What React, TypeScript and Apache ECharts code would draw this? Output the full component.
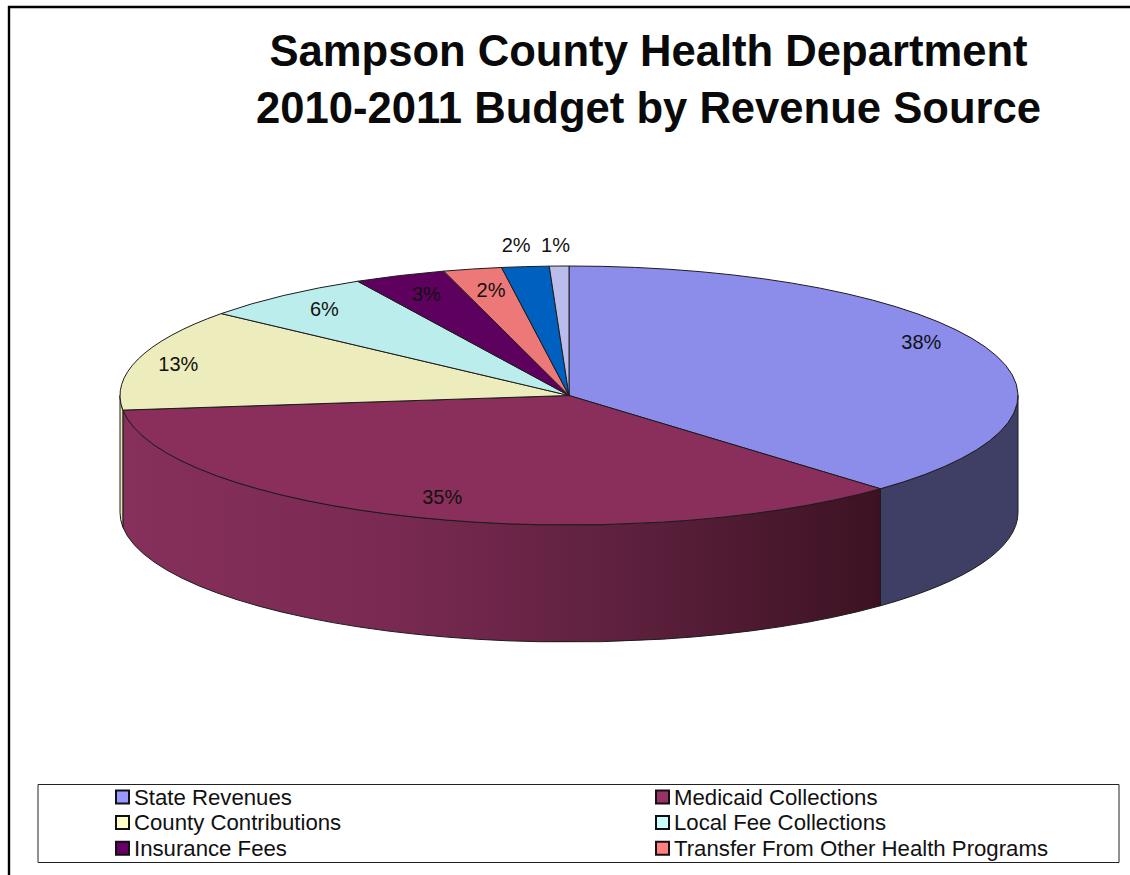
import React, { useEffect, useRef } from "react";
import * as echarts from "echarts";

const TITLE_LINES = ["Sampson County Health Department", "2010-2011 Budget by Revenue Source"];
const SOURCES = [
  "State Revenues",
  "Medicaid Collections",
  "County Contributions",
  "Local Fee Collections",
  "Insurance Fees",
  "Transfer From Other Health Programs",
  "Other Grants",
  "Miscellaneous",
];
const SHARES = [37.8, 35.4, 12.7, 6.3, 3.3, 2.1, 1.7, 0.7];
const LEGEND_LEFT = ["State Revenues", "County Contributions", "Insurance Fees"];
const LEGEND_RIGHT = ["Medicaid Collections", "Local Fee Collections", "Transfer From Other Health Programs"];

const TOP_COLORS = ["#8C8CEB", "#8A2E5C", "#ECECBC", "#BCEDED", "#5E005E", "#ED7878", "#0060BF", "#BCBCEC"];
const LEGEND_COLORS = ["#9999FF", "#993366", "#FFFFCC", "#CCFFFF", "#660066", "#FF8080", "#0066CC", "#CCCCFF"];
const WALL_COLORS = ["#3F3F66", "", "#E6E6B8", "#7FA0A0", "#3A003A", "#A05050", "#003F80", "#8080A0"];
const MEDICAID_WALL_STOPS = [
  { offset: 0, color: "#86305B" },
  { offset: 0.35, color: "#7A2A52" },
  { offset: 0.7, color: "#5A1F3B" },
  { offset: 1, color: "#3C1222" },
];

// radial placement of each percentage label, as a fraction of the ellipse radii
const LABEL_FX = [0.846, 0.834, 0.907, 0.858, 0.843, 0.808, 1.21, 1.37];
const LABEL_FY = [1.1, 0.834, 0.85, 0.865, 0.846, 0.834, 1.168, 1.162];

const CX = 569;
const CY = 395.5;
const RX = 449;
const RY = 129.5;
const DEPTH = 117;
const STROKE = "#1c1c1c";

const total = SHARES.reduce((a, b) => a + b, 0);
const startAngle = (i: number) => (SHARES.slice(0, i).reduce((a, b) => a + b, 0) / total) * 360;

const pt = (deg: number, dy = 0, fx = 1, fy = 1): [number, number] => {
  const r = (deg * Math.PI) / 180;
  return [CX + RX * fx * Math.sin(r), CY - RY * fy * Math.cos(r) + dy];
};

const fmt = (p: [number, number]) => `${p[0].toFixed(2)} ${p[1].toFixed(2)}`;

const topPath = (a0: number, a1: number) => {
  const large = a1 - a0 > 180 ? 1 : 0;
  return `M${CX} ${CY}L${fmt(pt(a0))}A${RX} ${RY} 0 ${large} 1 ${fmt(pt(a1))}Z`;
};

const wallPath = (a0: number, a1: number) => {
  const s = Math.max(a0, 90);
  const e = Math.min(a1, 270);
  if (e <= s) return null;
  return (
    `M${fmt(pt(s))}A${RX} ${RY} 0 0 1 ${fmt(pt(e))}` +
    `L${fmt(pt(e, DEPTH))}A${RX} ${RY} 0 0 0 ${fmt(pt(s, DEPTH))}Z`
  );
};

const makeRenderItem = (i: number) => (_params: any, api: any) => {
  const share = api.value(0) as number;
  const a0 = startAngle(i);
  const a1 = a0 + (share / total) * 360;
  const children: any[] = [];
  const wall = wallPath(a0, a1);
  if (wall) {
    children.push({
      type: "path",
      shape: { pathData: wall },
      style: {
        fill:
          i === 1
            ? new echarts.graphic.LinearGradient(0, 0, 1, 0, MEDICAID_WALL_STOPS)
            : WALL_COLORS[i],
        stroke: STROKE,
        lineWidth: 1,
      },
    });
  }
  children.push({
    type: "path",
    shape: { pathData: topPath(a0, a1) },
    style: { fill: TOP_COLORS[i], stroke: STROKE, lineWidth: 1 },
  });
  const mid = (a0 + a1) / 2;
  const [lx, ly] = pt(mid, 0, LABEL_FX[i], LABEL_FY[i]);
  children.push({
    type: "text",
    z2: 100,
    x: lx,
    y: ly,
    style: {
      text: `${Math.round(share)}%`,
      fill: "#111",
      font: '20px "Liberation Sans", Arial, sans-serif',
      align: "center",
      verticalAlign: "middle",
    },
  });
  return { type: "group", children };
};

const legendFor = (names: string[], left: number) => ({
  orient: "vertical" as const,
  left,
  top: 786,
  padding: 0,
  itemGap: 3.6,
  itemWidth: 13,
  itemHeight: 13,
  selectedMode: false,
  icon: "rect",
  textStyle: {
    fontFamily: '"Liberation Sans", Arial, sans-serif',
    fontSize: 22.2,
    color: "#111",
    padding: [0, 0, 0, 0],
  },
  data: names.map((name) => ({
    name,
    itemStyle: {
      color: LEGEND_COLORS[SOURCES.indexOf(name)],
      borderColor: "#111",
      borderWidth: 2,
    },
  })),
});

export default function App() {
  const ref = useRef<HTMLDivElement>(null);
  useEffect(() => {
    const chart = echarts.init(ref.current!, undefined, { renderer: "svg" });
    chart.setOption({
      animation: false,
      backgroundColor: "#ffffff",
      title: {
        text: TITLE_LINES.join("\n"),
        left: 643.5,
        top: 17,
        textAlign: "center",
        textStyle: {
          fontFamily: '"Liberation Sans", Arial, sans-serif',
          fontWeight: "bold",
          fontSize: 43.6,
          lineHeight: 57,
          color: "#0a0a0a",
        },
      },
      legend: [legendFor(LEGEND_LEFT, 115), legendFor(LEGEND_RIGHT, 655)],
      graphic: [
        {
          type: "polyline",
          silent: true,
          shape: { points: [[9, 875], [9, 7], [1130, 7]] },
          style: { fill: "none", stroke: "#000", lineWidth: 2.4 },
        },
        {
          type: "rect",
          silent: true,
          shape: { x: 38, y: 784.5, width: 1081, height: 78 },
          style: { fill: "none", stroke: "#222", lineWidth: 1 },
        },
      ],
      series: SOURCES.map((name, i) => ({
        type: "custom",
        name,
        coordinateSystem: "none",
        itemStyle: { color: LEGEND_COLORS[i] },
        data: [[SHARES[i]]],
        renderItem: makeRenderItem(i),
      })),
    });
    return () => chart.dispose();
  }, []);
  return <div ref={ref} style={{ position: "fixed", left: 0, top: 0, width: 1130, height: 875 }} />;
}
